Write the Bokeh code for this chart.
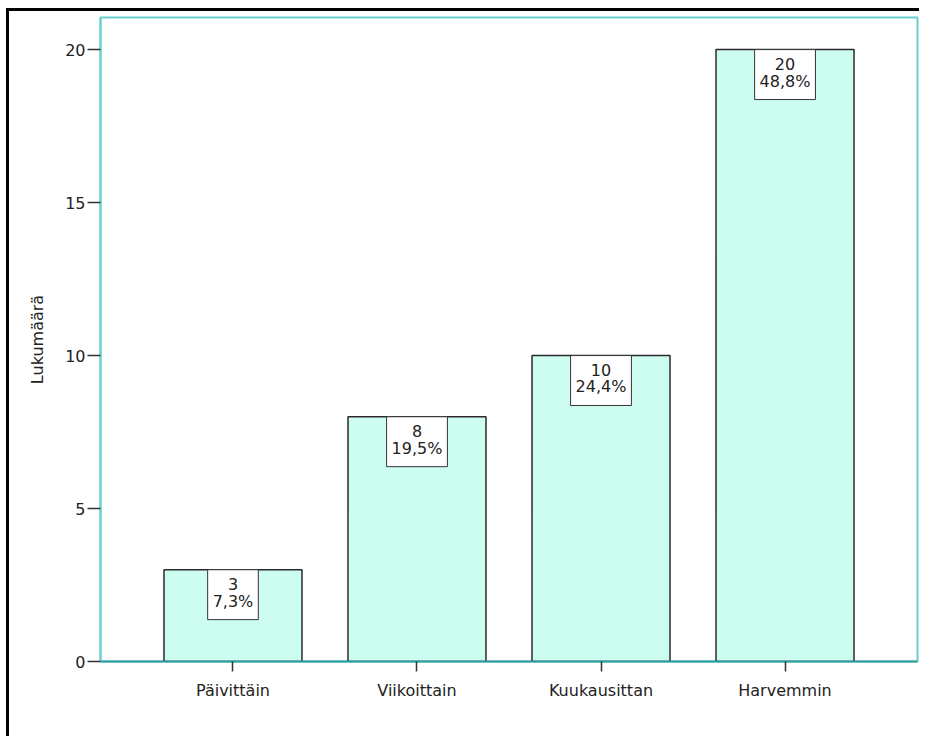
from bokeh.plotting import figure
from bokeh.models import FactorRange, Range1d, FixedTicker, ColumnDataSource
from bokeh.core.properties import value
from bokeh.embed import file_html
from bokeh.resources import INLINE

categories = ["Päivittäin", "Viikoittain", "Kuukausittan", "Harvemmin"]
counts = [3, 8, 10, 20]
percents = ["7,3%", "19,5%", "24,4%", "48,8%"]
y_ticks = [0, 5, 10, 15, 20]

labels = [f"{c}\n{p}" for c, p in zip(counts, percents)]
src = ColumnDataSource(dict(cat=categories, cnt=counts, lab=labels))

FONT = value("DejaVu Sans")
FS = "16px"
TXT = "#222222"
TEAL = "#6CCFCF"

p = figure(
    width=919, height=736,
    x_range=FactorRange(*categories, range_padding=0.22, range_padding_units="absolute"),
    y_range=Range1d(0, 21.05),
    output_backend="svg", toolbar_location=None,
    min_border_left=100, min_border_top=17, min_border_right=2, min_border_bottom=75,
    border_fill_color=None, background_fill_color="white",
    styles={
        "background-color": "white",
        "background-image": "linear-gradient(#000, #000), linear-gradient(#000, #000)",
        "background-size": "100% 3px, 3px 100%",
        "background-position": "6px 8px, 6px 8px",
        "background-repeat": "no-repeat",
    },
)
p.outline_line_color = TEAL
p.outline_line_width = 2
p.xgrid.grid_line_color = None
p.ygrid.grid_line_color = None

p.vbar(x="cat", top="cnt", bottom=0, width=0.75, source=src,
       fill_color="#CCFDF0", line_color="#2a2a2a", line_width=1.5)

p.text(x="cat", y="cnt", text="lab", source=src,
       text_align="center", text_baseline="top", anchor="top_center",
       text_font=FONT, text_font_size=FS, text_color=TXT, text_line_height=0.89,
       background_fill_color="white", border_line_color="#333333", border_line_width=1,
       padding=dict(left=5, right=5, top=5, bottom=9))

p.yaxis.ticker = FixedTicker(ticks=y_ticks)
p.yaxis.minor_tick_line_color = None
p.yaxis.major_tick_out = 13
p.yaxis.major_tick_in = 0
p.yaxis.major_tick_line_color = "#333333"
p.yaxis.major_tick_line_width = 1.5
p.yaxis.axis_line_color = TEAL
p.yaxis.axis_line_width = 2
p.yaxis.major_label_standoff = 2
p.yaxis.major_label_text_font = "DejaVu Sans"
p.yaxis.major_label_text_font_size = FS
p.yaxis.major_label_text_color = TXT
p.yaxis.axis_label = "Lukumäärä"
p.yaxis.axis_label_text_font = "DejaVu Sans"
p.yaxis.axis_label_text_font_size = FS
p.yaxis.axis_label_text_font_style = "normal"
p.yaxis.axis_label_text_color = TXT
p.yaxis.axis_label_standoff = 15

p.xaxis.major_tick_out = 10
p.xaxis.major_tick_in = 0
p.xaxis.major_tick_line_color = "#333333"
p.xaxis.major_tick_line_width = 1.5
p.xaxis.axis_line_color = "#2E9C9C"
p.xaxis.axis_line_width = 2
p.xaxis.major_label_standoff = 9
p.xaxis.major_label_text_font = "DejaVu Sans"
p.xaxis.major_label_text_font_size = FS
p.xaxis.major_label_text_color = TXT

open("out.html", "w").write(file_html(p, INLINE))
